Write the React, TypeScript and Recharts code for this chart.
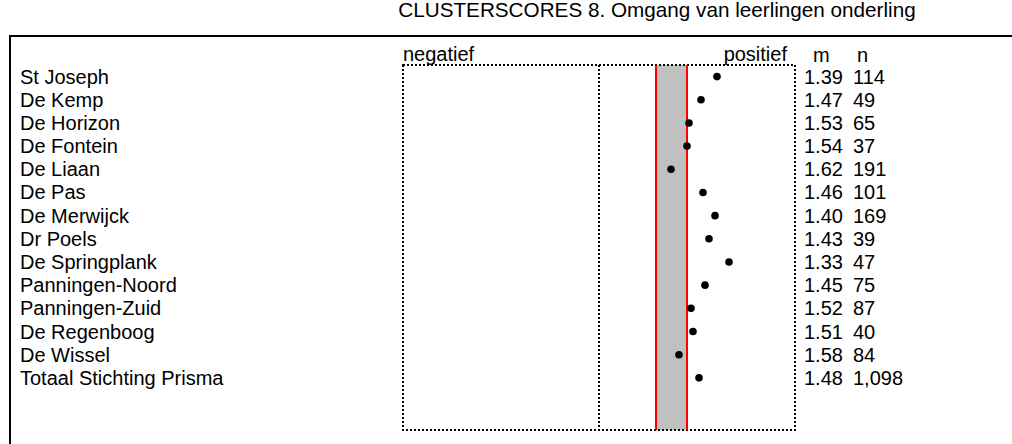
import { ReferenceArea, ReferenceLine, Scatter, ScatterChart, XAxis, YAxis } from "recharts";

const FONT = "'Liberation Sans', Arial, sans-serif";
const TITLE = "CLUSTERSCORES 8. Omgang van leerlingen onderling";

const schools = [
  "St Joseph",
  "De Kemp",
  "De Horizon",
  "De Fontein",
  "De Liaan",
  "De Pas",
  "De Merwijck",
  "Dr Poels",
  "De Springplank",
  "Panningen-Noord",
  "Panningen-Zuid",
  "De Regenboog",
  "De Wissel",
  "Totaal Stichting Prisma",
];
const means = [1.39, 1.47, 1.53, 1.54, 1.62, 1.46, 1.4, 1.43, 1.33, 1.45, 1.52, 1.51, 1.58, 1.48];
const counts = ["114", "49", "65", "37", "191", "101", "169", "39", "47", "75", "87", "40", "84", "1,098"];

// scale: left edge = negatief, right edge = positief
const scaleNeg = 2.96;
const scalePos = 1;
const scaleMid = 1.98;
const bandLow = 1.54;
const bandHigh = 1.695;
const rowTop = -0.5;
const rowBottom = 15.25;

const points = means.map((m, i) => ({ row: i, m }));
const rowTicks = schools.map((_, i) => i);

document.body.style.margin = "0";

function SchoolTick({ x, y, payload }: any) {
  return (
    <text x={x - 375} y={y} dy="0.35em" textAnchor="start" fontSize={20} fill="#000" fontFamily={FONT}>
      {schools[payload.value]}
    </text>
  );
}

function StatsTick({ x, y, payload }: any) {
  const i = payload.value;
  return (
    <g fontSize={20} fill="#000" fontFamily={FONT}>
      <text x={x + 1} y={y} dy="0.35em" textAnchor="start">
        {means[i].toFixed(2)}
      </text>
      <text x={x + 50} y={y} dy="0.35em" textAnchor="start">
        {counts[i]}
      </text>
    </g>
  );
}

function SideTick({ x, y, payload }: any) {
  const neg = payload.value === scaleNeg;
  return (
    <text
      x={neg ? x : x - 8}
      y={y}
      dy="0.2em"
      textAnchor={neg ? "start" : "end"}
      fontSize={20}
      fill="#000"
      fontFamily={FONT}
    >
      {neg ? "negatief" : "positief"}
    </text>
  );
}

export default function App() {
  return (
    <div style={{ position: "relative", width: 1012, height: 444, background: "#fff", fontFamily: FONT }}>
      <div
        style={{
          position: "absolute",
          top: 0,
          left: 397,
          width: 520,
          textAlign: "center",
          fontSize: 20.7,
          lineHeight: "19px",
          whiteSpace: "nowrap",
        }}
      >
        {TITLE}
      </div>
      <div
        style={{
          position: "absolute",
          left: 9,
          top: 35,
          right: 0,
          bottom: 0,
          borderTop: "2px solid #000",
          borderLeft: "2px solid #000",
        }}
      />
      <div style={{ position: "absolute", left: 813, top: 46, fontSize: 20, lineHeight: "18px" }}>m</div>
      <div style={{ position: "absolute", left: 857, top: 46, fontSize: 20, lineHeight: "18px" }}>n</div>
      <div style={{ position: "absolute", left: 0, top: 0 }}>
        <ScatterChart width={1012} height={444} margin={{ top: 35, right: 0, bottom: 14, left: 0 }}>
          <XAxis
            type="number"
            dataKey="m"
            orientation="top"
            height={30}
            domain={[scalePos, scaleNeg]}
            reversed
            allowDataOverflow
            ticks={[scaleNeg, scalePos]}
            interval={0}
            axisLine={false}
            tickLine={false}
            tick={<SideTick />}
          />
          <YAxis
            type="number"
            dataKey="row"
            width={403}
            domain={[rowTop, rowBottom]}
            reversed
            allowDataOverflow
            ticks={rowTicks}
            interval={0}
            axisLine={false}
            tickLine={false}
            tick={<SchoolTick />}
          />
          <YAxis
            yAxisId="stats"
            type="number"
            orientation="right"
            width={217}
            domain={[rowTop, rowBottom]}
            reversed
            allowDataOverflow
            ticks={rowTicks}
            interval={0}
            axisLine={false}
            tickLine={false}
            tick={<StatsTick />}
          />
          <ReferenceArea x1={bandLow} x2={bandHigh} y1={rowTop} y2={rowBottom} fill="#c0c0c0" fillOpacity={1} stroke="none" />
          <ReferenceLine x={bandLow} stroke="#ff0000" strokeWidth={2} />
          <ReferenceLine x={bandHigh} stroke="#ff0000" strokeWidth={2} />
          <ReferenceArea
            x1={scalePos}
            x2={scaleNeg}
            y1={rowTop}
            y2={rowBottom}
            fill="none"
            stroke="#000"
            strokeWidth={2}
            strokeDasharray="2 2"
          />
          <ReferenceLine x={scaleMid} stroke="#000" strokeWidth={2} strokeDasharray="2 2" />
          <Scatter
            data={points}
            fill="#000"
            isAnimationActive={false}
            shape={(p: any) => <circle cx={p.cx} cy={p.cy} r={3.8} fill="#000" />}
          />
        </ScatterChart>
      </div>
    </div>
  );
}
